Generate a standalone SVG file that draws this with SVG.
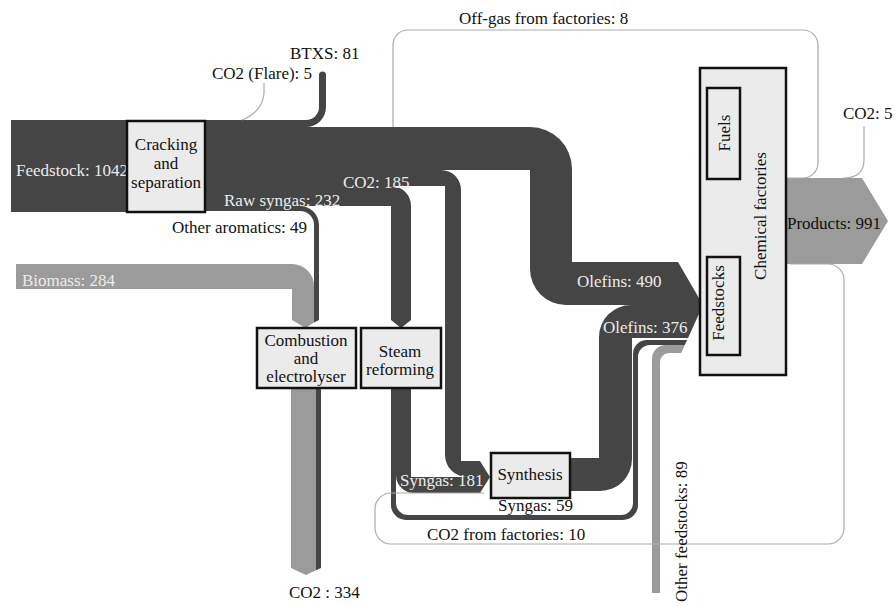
<svg xmlns="http://www.w3.org/2000/svg" width="896" height="606" viewBox="0 0 896 606" font-family="'Liberation Serif', 'DejaVu Serif', serif">
<style>
.dark{fill:#454545}
.gray{fill:#9b9b9b}
.thin{fill:none;stroke:#ababab;stroke-width:1.2}
.box{fill:#ebebeb;stroke:#111;stroke-width:2.5}
text{font-family:'Liberation Serif','DejaVu Serif',serif;font-size:17px;fill:#111}
.lt{fill:#ececec}
.c{text-anchor:middle}
</style>
<rect width="896" height="606" fill="#fff"/>
<g id="connectors">
  <rect class="dark" x="11" y="120" width="117" height="92"/>
  <path class="dark" d="M205,120 H306 A13,13 0 0 0 319,107 V75 A3.5,3.5 0 0 1 326,75 V107 A20,20 0 0 1 306,127 H205 Z"/>
  <path class="dark" d="M205,127 H530 A42,42 0 0 1 572,169 V262 H678 L703,305 H566 A36,36 0 0 1 530,269 V170 H205 Z"/>
  <path class="dark" d="M205,170 H441 A20,20 0 0 1 461,190 V461 H480 L490,477 H467 A22,22 0 0 1 445,455 V186 H205 Z"/>
  <path class="dark" d="M205,186 H391 A20,20 0 0 1 411,206 V320 L401,328 L391,320 V206 H205 Z"/>
  <path class="dark" d="M205,206 H300 A19,19 0 0 1 319,225 V320 L314,322.6 V225 A14,14 0 0 0 300,211 H205 Z"/>
  <path class="gray" d="M16,264 H292 A22,22 0 0 1 314,286 V322.6 L305.5,328 L292,320 V289 H16 Z"/>
  <path class="gray" d="M291,388 H316 V570.3 L306,575 L291,568 Z"/>
  <path class="dark" d="M316,388 H321 V568 L316,570.3 Z"/>
  <path class="dark" d="M396,388 H411 V477 H490 L480,493 H414 A18,18 0 0 1 396,475 Z"/>
  <path class="dark" d="M391,388 H396 V503 A12,12 0 0 0 408,515 H621 A12,12 0 0 0 633,503 V354 A14,14 0 0 1 647,340 H687.1 L684.8,345 H650 A12,12 0 0 0 638,357 V505 A15,15 0 0 1 623,520 H406 A15,15 0 0 1 391,505 Z"/>
  <path class="dark" d="M571,458 H599 V337 A32,32 0 0 1 631,305 H703 L688,338 H632 V459 A32,32 0 0 1 600,491 H571 Z"/>
  <path class="gray" d="M652,593 V359 A14,14 0 0 1 666,345 H684.8 L681.2,353 H669 A9,9 0 0 0 660,362 V593 Z"/>
  <path class="gray" d="M786,178 H862 L888,221 L862,264 H786 Z"/>
  <path class="thin" d="M242,120 Q262,112 264,94 V83"/>
  <path class="thin" d="M786,178 H803 A15,15 0 0 0 818,163 V45 A15,15 0 0 0 803,30 H408 A15,15 0 0 0 393,45 V127"/>
  <path class="thin" d="M843,178 Q864,178 864,160 V126"/>
  <path class="thin" d="M790,264 H828 A16,16 0 0 1 844,280 V528 A16,16 0 0 1 828,544 H391 A16,16 0 0 1 375,528 V509 A16,16 0 0 1 391,493 H484"/>
</g>
<g id="labels">
  <text x="290" y="59">BTXS: 81</text>
  <text x="212" y="79">CO2 (Flare): 5</text>
  <text x="459" y="24">Off-gas from factories: 8</text>
  <text class="lt" x="16" y="176">Feedstock: 1042</text>
  <text class="lt" x="343" y="188">CO2: 185</text>
  <text class="lt" x="224" y="206">Raw syngas: 232</text>
  <text x="172" y="233">Other aromatics: 49</text>
  <text class="lt" x="22" y="286">Biomass: 284</text>
  <text class="lt" x="577" y="287">Olefins: 490</text>
  <text class="lt" x="603" y="333">Olefins: 376</text>
  <text class="lt" x="400" y="486">Syngas: 181</text>
  <text x="498" y="511">Syngas: 59</text>
  <text x="427" y="540">CO2 from factories: 10</text>
  <text x="289" y="598">CO2 : 334</text>
  <text x="787" y="229">Products: 991</text>
  <text x="843" y="119">CO2: 5</text>
  <text transform="translate(687,602) rotate(-90)">Other feedstocks: 89</text>
</g>
<g id="cracking">
  <rect class="box" x="127" y="121" width="78" height="91"/>
  <text class="c" x="166" y="150">Cracking</text>
  <text class="c" x="166" y="169">and</text>
  <text class="c" x="166" y="188">separation</text>
</g>
<g id="combustion">
  <rect class="box" x="257" y="328" width="99" height="60"/>
  <text class="c" x="306" y="346">Combustion</text>
  <text class="c" x="306" y="364">and</text>
  <text class="c" x="306" y="382">electrolyser</text>
</g>
<g id="steam">
  <rect class="box" x="361" y="328" width="80" height="60"/>
  <text class="c" x="400" y="357">Steam</text>
  <text class="c" x="400" y="375">reforming</text>
</g>
<g id="synthesis">
  <rect class="box" x="491" y="453" width="79" height="45"/>
  <text class="c" x="530" y="480">Synthesis</text>
</g>
<g id="chemical">
  <rect class="box" x="700" y="68" width="86" height="307"/>
  <text class="c" transform="translate(766,216) rotate(-90)">Chemical factories</text>
  <g id="fuels">
    <rect class="box" x="707" y="88" width="33" height="91"/>
    <text class="c" transform="translate(730,133) rotate(-90)">Fuels</text>
  </g>
  <g id="feedstocks">
    <rect class="box" x="707" y="257" width="33" height="98"/>
    <text class="c" transform="translate(724,303) rotate(-90)">Feedstocks</text>
  </g>
</g>
</svg>
